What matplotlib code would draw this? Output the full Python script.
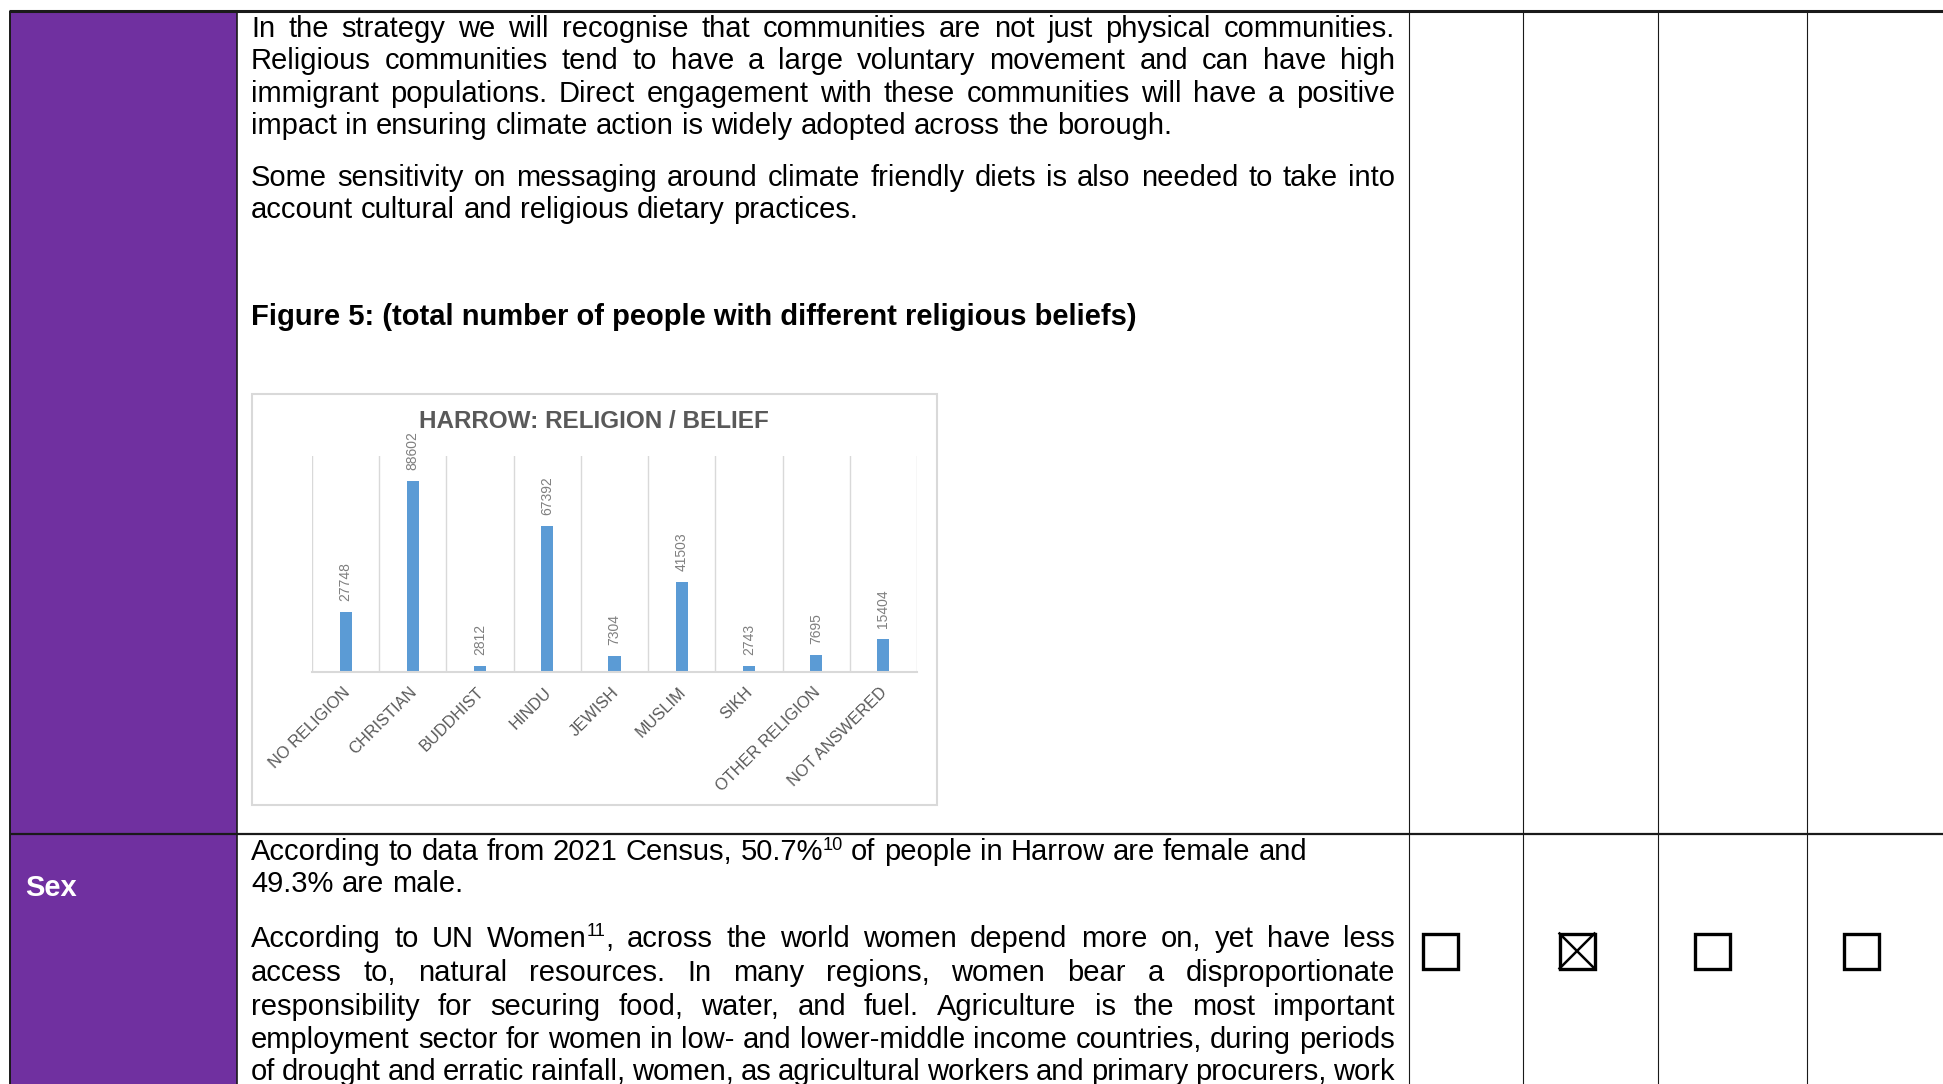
import re

import matplotlib

matplotlib.use("Agg")
import matplotlib.pyplot as plt
import numpy as np
from matplotlib.patches import Rectangle
from matplotlib.transforms import ScaledTranslation

W, H = 1943, 1084
PURPLE = "#7030A0"
BAR_BLUE = "#5B9BD5"
GRID = "#D9D9D9"
TXT_GREY = "#595959"

plt.rcParams["font.family"] = ["Liberation Sans", "DejaVu Sans"]

# --- chart data ------------------------------------------------------------
religions = ["NO RELIGION", "CHRISTIAN", "BUDDHIST", "HINDU", "JEWISH",
             "MUSLIM", "SIKH", "OTHER RELIGION", "NOT ANSWERED"]
counts = [27748, 88602, 2812, 67392, 7304, 41503, 2743, 7695, 15404]
chart_title = "HARROW: RELIGION / BELIEF"

# --- document text (line, justified?) ---------------------------------------
religion_lines = [
    ("In the strategy we will recognise that communities are not just physical communities.", True),
    ("Religious communities tend to have a large voluntary movement and can have high", True),
    ("immigrant populations. Direct engagement with these communities will have a positive", True),
    ("impact in ensuring climate action is widely adopted across the borough.", False),
    ("Some sensitivity on messaging around climate friendly diets is also needed to take into", True),
    ("account cultural and religious dietary practices.", False),
]
religion_baselines = [37, 69, 102, 134, 186, 218]
figure_caption = "Figure 5: (total number of people with different religious beliefs)"

sex_label = "Sex"
sex_lines = [
    ("According to data from 2021 Census, 50.7%^{10} of people in Harrow are female and", False),
    ("49.3% are male.", False),
    ("According to UN Women^{11}, across the world women depend more on, yet have less", True),
    ("access to, natural resources. In many regions, women bear a disproportionate", True),
    ("responsibility for securing food, water, and fuel. Agriculture is the most important", True),
    ("employment sector for women in low- and lower-middle income countries, during periods", True),
    ("of drought and erratic rainfall, women, as agricultural workers and primary procurers, work", True),
]
sex_baselines = [860, 892, 947, 981, 1015, 1048, 1080]
checkbox_ticked = [False, True, False, False]

BODY_SIZE = 21
TEXT_X0, TEXT_X1 = 251, 1395


def text_width(ax, renderer, s, **kw):
    t = ax.text(0, 0, s, **kw)
    w = t.get_window_extent(renderer).width
    t.remove()
    return w


def draw_line(ax, renderer, line, y, justify, size=BODY_SIZE):
    """Draw one line word by word; ^{nn} marks a superscript."""
    words = line.split(" ")
    kw = dict(fontsize=size, va="baseline", ha="left", color="black")
    sup_kw = dict(fontsize=size * 0.62, va="baseline", ha="left", color="black")
    space = text_width(ax, renderer, "a a", **kw) - text_width(ax, renderer, "aa", **kw)
    parts, widths = [], []
    for w in words:
        segs = re.split(r"\^\{(\d+)\}", w)
        wp, total = [], 0.0
        for i, s in enumerate(segs):
            if not s:
                continue
            k = sup_kw if i % 2 else kw
            sw = text_width(ax, renderer, s, **k)
            wp.append((s, i % 2 == 1, total))
            total += sw
        parts.append(wp)
        widths.append(total)
    gap = space
    if justify and len(words) > 1:
        gap = (TEXT_X1 - TEXT_X0 - sum(widths)) / (len(words) - 1)
    x = TEXT_X0
    raise_px = size * 100 / 72 * 0.36
    for wp, ww in zip(parts, widths):
        for s, is_sup, off in wp:
            if is_sup:
                ax.text(x + off, y - raise_px, s, **sup_kw)
            else:
                ax.text(x + off, y, s, **kw)
        x += ww + gap


fig = plt.figure(figsize=(W / 100, H / 100), dpi=100)
bg = fig.add_axes([0, 0, 1, 1])
bg.set_xlim(0, W)
bg.set_ylim(H, 0)
bg.axis("off")
renderer = fig.canvas.get_renderer()

# table frame
bg.add_patch(Rectangle((10, 11), 227, H - 11, facecolor=PURPLE, edgecolor="none"))
bg.plot([9, W], [11, 11], color="#1a1a1a", lw=2.2, solid_capstyle="butt")
bg.plot([10, W], [834, 834], color="#1a1a1a", lw=1.6, solid_capstyle="butt")
for xv, lw in [(10, 1.4), (237, 1.2), (1409, 0.8), (1523, 0.8), (1658, 0.8), (1807, 0.8)]:
    bg.plot([xv, xv], [11, H], color="#1a1a1a", lw=lw, solid_capstyle="butt")

# religion row text
for (line, just), yb in zip(religion_lines, religion_baselines):
    draw_line(bg, renderer, line, yb, just)
bg.text(TEXT_X0, 325, figure_caption, fontsize=BODY_SIZE, fontweight="bold",
        va="baseline", ha="left")

# sex row
bg.text(25, 896, sex_label, fontsize=BODY_SIZE, fontweight="bold", color="white",
        va="baseline", ha="left")
for (line, just), yb in zip(sex_lines, sex_baselines):
    draw_line(bg, renderer, line, yb, just)

box_cx = [1440, 1577, 1712, 1861]
box_cy, box_s = 951, 35
for cx, ticked in zip(box_cx, checkbox_ticked):
    x0, y0 = cx - box_s / 2, box_cy - box_s / 2
    bg.add_patch(Rectangle((x0, y0), box_s, box_s, facecolor="none",
                           edgecolor="black", lw=2.4))
    if ticked:
        bg.plot([x0, x0 + box_s], [y0, y0 + box_s], color="black", lw=1.8)
        bg.plot([x0, x0 + box_s], [y0 + box_s, y0], color="black", lw=1.8)

# chart frame + title
bg.add_patch(Rectangle((252, 394), 685, 411, facecolor="white", edgecolor=GRID, lw=1.5))
bg.text(594, 421, chart_title, fontsize=17.5, fontweight="bold", color=TXT_GREY,
        ha="center", va="center")

# --- the bar chart itself ---------------------------------------------------
ax = fig.add_axes([312 / W, 1 - 672 / H, 605 / W, 216 / H])
ax.set_facecolor("none")
x = np.arange(len(counts))
ax.bar(x, counts, width=0.18, color=BAR_BLUE, zorder=2)
ax.set_xlim(-0.5, len(counts) - 0.5)
ax.set_ylim(0, 100000)
for b in np.arange(-0.5, len(counts)):
    ax.axvline(b, color=GRID, lw=1.0, zorder=0)
ax.set_yticks([])
for side in ["top", "left", "right"]:
    ax.spines[side].set_visible(False)
ax.spines["bottom"].set_color(GRID)
ax.spines["bottom"].set_linewidth(1.5)
ax.set_xticks(x, religions, rotation=45, ha="right", fontsize=11.8, color=TXT_GREY)
ax.tick_params(axis="x", length=0, pad=9)
shift = ScaledTranslation(7 / 100, 0, fig.dpi_scale_trans)
for lbl in ax.get_xticklabels():
    lbl.set_transform(lbl.get_transform() + shift)
for xi, v in zip(x, counts):
    ax.annotate(f"{v}", (xi, v), xytext=(0, 8), textcoords="offset points",
                rotation=90, ha="center", va="bottom", fontsize=10, color="#7F7F7F")

fig.savefig("out.png", dpi=100)
